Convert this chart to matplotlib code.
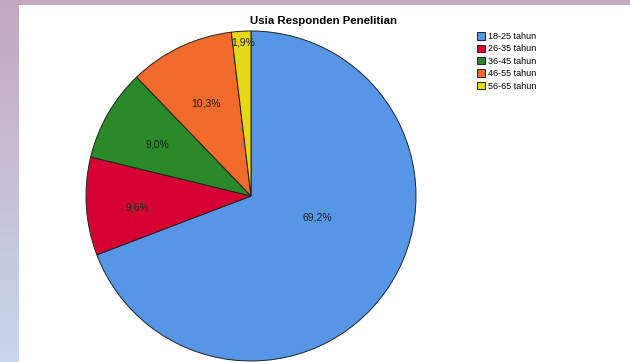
import matplotlib.pyplot as plt
import numpy as np
from matplotlib.patches import Patch, Rectangle

categories = ['18-25 tahun', '26-35 tahun', '36-45 tahun', '46-55 tahun', '56-65 tahun']
values = [69.2, 9.6, 9.0, 10.3, 1.9]
pct_labels = ['69,2%', '9,6%', '9,0%', '10,3%', '1,9%']
colors = ['#5596e6', '#d60032', '#2a8a2a', '#f26b2a', '#e6d816']
# label positions in pie-radius units (centre = 0,0)
label_xy = [(0.40, -0.13), (-0.69, -0.07), (-0.57, 0.315), (-0.27, 0.56), (-0.05, 0.93)]

plt.rcParams['font.family'] = ['Liberation Sans', 'DejaVu Sans']

W, H = 630, 362
fig = plt.figure(figsize=(W / 100, H / 100), dpi=100)
fig.patch.set_facecolor('white')

# slide-like border: gradient strip on the left, purple band on top
bg = fig.add_axes([0, 0, 19 / W, 1])
grad = np.linspace(0, 1, 256)[:, None, None]
top_c = np.array([196, 168, 192]) / 255
bot_c = np.array([200, 214, 238]) / 255
bg.imshow(top_c * (1 - grad) + bot_c * grad, aspect='auto', extent=[0, 1, 1, 0])
bg.axis('off')
fig.patches.append(Rectangle((0, 1 - 5 / H), 1, 5 / H, transform=fig.transFigure,
                             facecolor=top_c, edgecolor='none', zorder=0))

R = 165
cx, cy = 251, 196
ax = fig.add_axes([(cx - R) / W, (H - cy - R) / H, 2 * R / W, 2 * R / H])
wedges, _ = ax.pie(values, colors=colors, startangle=90, counterclock=False,
                   radius=1, wedgeprops=dict(edgecolor='#222222', linewidth=0.7))
ax.set_xlim(-1, 1)
ax.set_ylim(-1, 1)
ax.set_aspect('equal')

for (x, y), t in zip(label_xy, pct_labels):
    ax.text(x, y, t, ha='center', va='center', fontsize=7.5, color='#222222')

fig.text(323 / W, 1 - 21 / H, 'Usia Responden Penelitian', ha='center', va='center',
         fontsize=8.2, fontweight='bold')

handles = [Patch(facecolor=c, edgecolor='#222222', linewidth=0.7) for c in colors]
fig.legend(handles, categories, loc='upper left', bbox_to_anchor=(477 / W, 1 - 32 / H),
           frameon=False, fontsize=6.5, handlelength=0.9, handleheight=0.9,
           handletextpad=0.3, labelspacing=0.38, borderaxespad=0, borderpad=0)

fig.savefig('out.png', dpi=100)
